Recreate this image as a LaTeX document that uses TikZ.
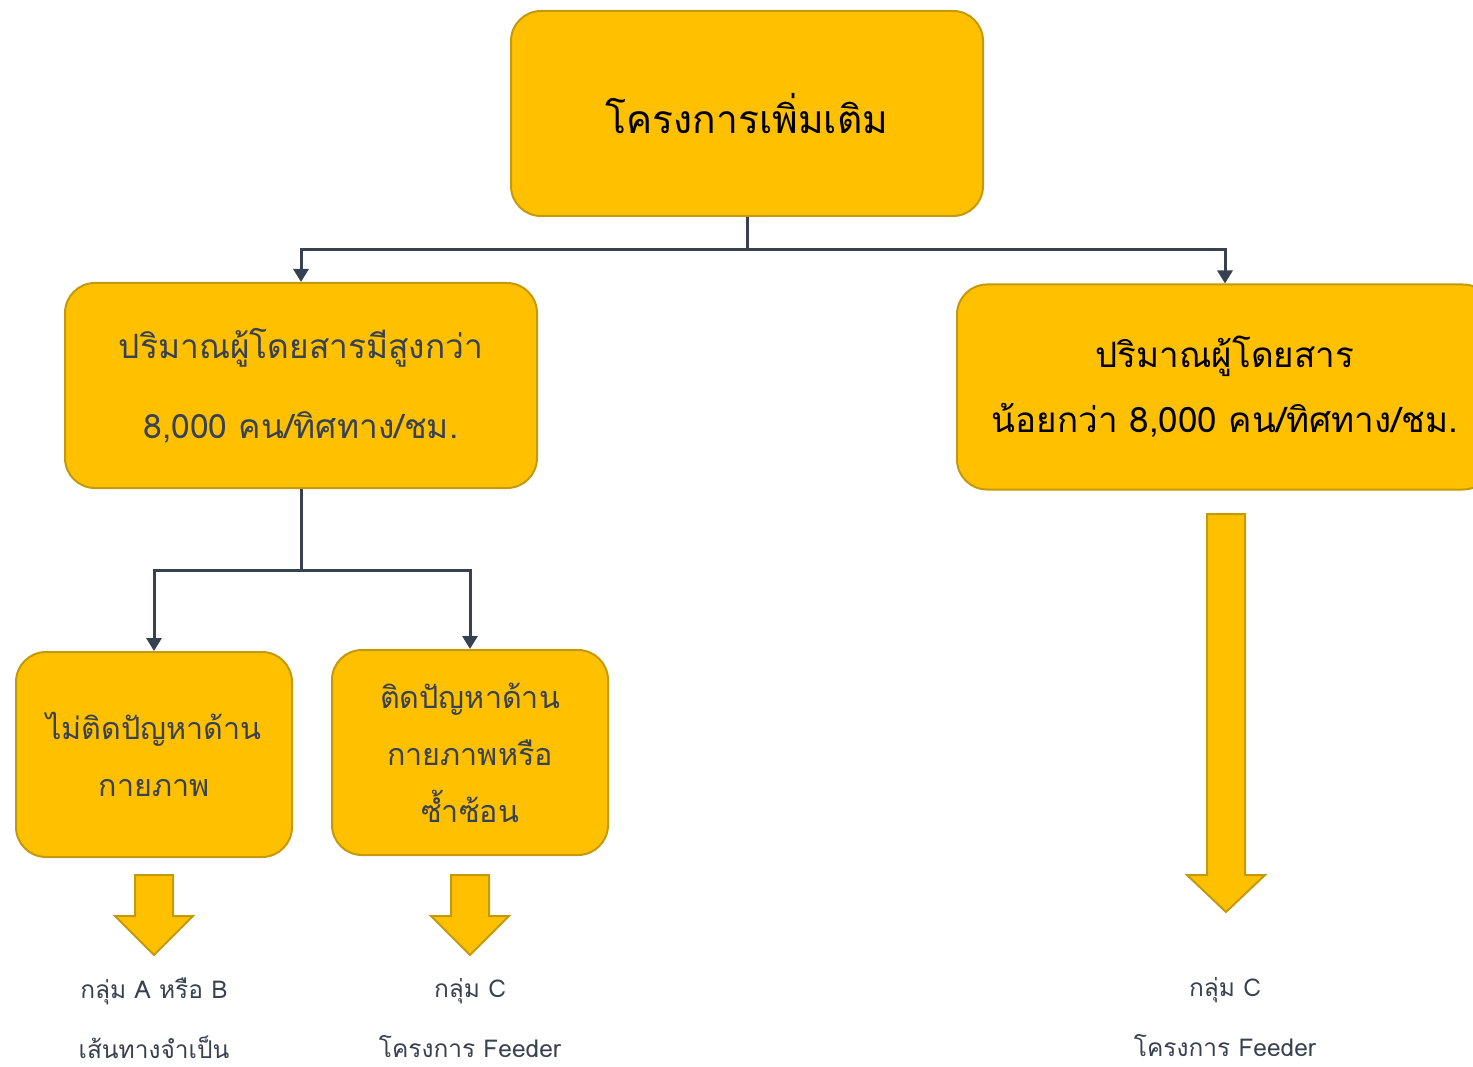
\documentclass[tikz,border=0pt]{standalone}
\usepackage{fontspec}
\setmainfont[Script=Thai]{Loma}
\usetikzlibrary{arrows.meta}
\definecolor{boxfill}{HTML}{FFC000}
\definecolor{boxline}{HTML}{C49A0A}
\definecolor{slate}{HTML}{38414F}
\tikzset{
 box/.style={draw=boxline, fill=boxfill, line width=2pt, rounded corners=30pt, align=center, inner sep=0pt},
 link/.style={draw=slate, line width=3pt, -{Triangle[width=15pt,length=13pt]}},
 blockarrow/.style={draw=boxline, fill=boxfill, line width=2pt, line join=miter},
 label/.style={text=slate, align=center, font=\fontsize{24.5}{60}\selectfont}
}
\newcommand{\downarrowshape}[4]{% x, top, shaft end, tip
 \draw[blockarrow] (#1-19,#2) -- (#1+19,#2) -- (#1+19,#3) -- (#1+39,#3) -- (#1,#4)
 -- (#1-39,#3) -- (#1-19,#3) -- cycle;}
\begin{document}
\begin{tikzpicture}[x=1pt, y=-1pt]
 \useasboundingbox (0,0) rectangle (1473,1067);
 \clip (0,0) rectangle (1473,1067);
 % boxes
 \node[box, minimum width=472pt, minimum height=205pt, font=\fontsize{39}{60}\selectfont] (top) at (747,113.5) {โครงการเพิ่มเติม};
 \node[box, minimum width=472pt, minimum height=205pt, text=slate, font=\fontsize{33.5}{80}\selectfont] (high) at (301,385.5) {ปริมาณผู้โดยสารมีสูงกว่า\\8,000 คน/ทิศทาง/ชม.};
 \node[box, minimum width=536pt, minimum height=205pt, font=\fontsize{35}{65}\selectfont] (low) at (1225,387) {ปริมาณผู้โดยสาร\\น้อยกว่า 8,000 คน/ทิศทาง/ชม.};
 \node[box, minimum width=276pt, minimum height=205pt, text=slate, font=\fontsize{30.5}{57}\selectfont] (free) at (154,754.5) {ไม่ติดปัญหาด้าน\\กายภาพ};
 \node[box, minimum width=276pt, minimum height=205pt, text=slate, font=\fontsize{30.5}{57}\selectfont] (limit) at (470,752.5) {ติดปัญหาด้าน\\กายภาพหรือ\\ซ้ำซ้อน};
 % connectors
 \draw[link] (top.south) -- ++(0,33) -| (high.north);
 \draw[link] (top.south) -- ++(0,33) -| (low.north);
 \draw[link] (high.south) -- ++(0,81) -| (free.north);
 \draw[link] (high.south) -- ++(0,81) -| (limit.north);
 % block arrows
 \downarrowshape{154}{875}{916}{955}
 \downarrowshape{470}{875}{916}{955}
 \downarrowshape{1226}{514}{875}{912}
 % results
 \node[label] (groupab) at (154,1018) {กลุ่ม A หรือ B\\เส้นทางจำเป็น};
 \node[label] (groupc) at (470,1018) {กลุ่ม C\\โครงการ Feeder};
 \node[label] (groupc2) at (1225,1017) {กลุ่ม C\\โครงการ Feeder};
\end{tikzpicture}
\end{document}
